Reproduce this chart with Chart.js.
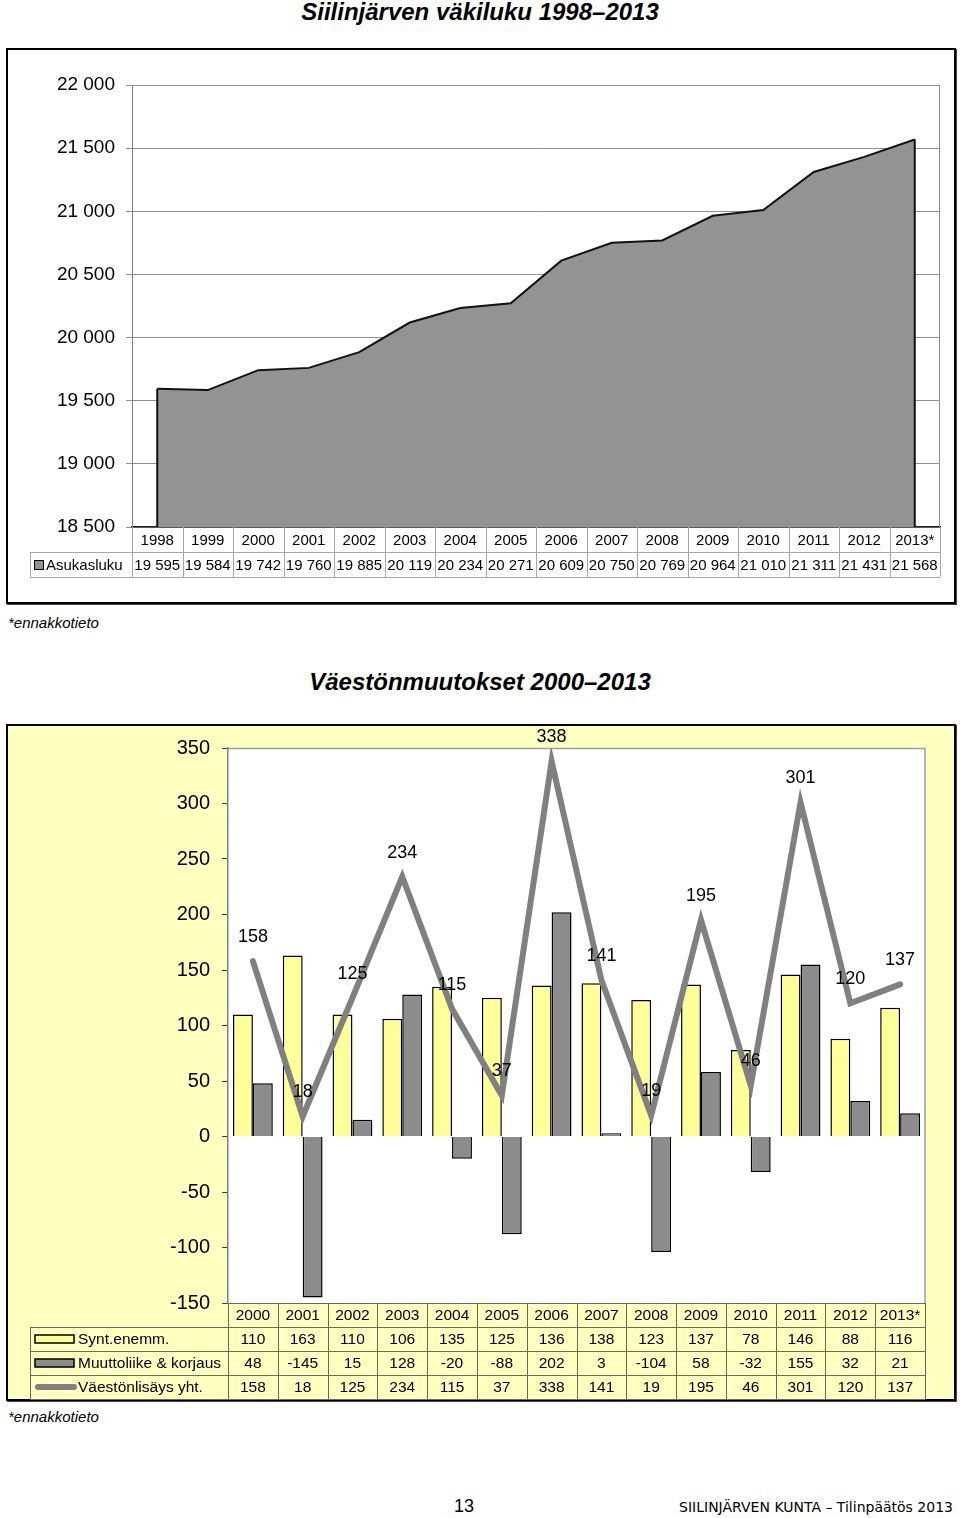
<!DOCTYPE html>
<html>
<head>
<meta charset="utf-8">
<script src="https://cdn.jsdelivr.net/npm/chart.js@4"></script>
<style>
body { margin: 0; width: 960px; height: 1518px; background: #fff; position: relative; font-family: "Liberation Sans", Arial, sans-serif; }
.title { position: absolute; left: 0; width: 960px; text-align: center; font-weight: bold; font-style: italic; font-size: 24px; line-height: 28px; }
.note { position: absolute; left: 8px; font-style: italic; font-size: 15px; line-height: 18px; }
.box { position: absolute; border: 2px solid #000; box-shadow: 1px 1px 0 #444; box-sizing: border-box; }
canvas { position: absolute; }
</style>
</head>
<body>
<div class="title" style="top:-2px">Siilinjärven väkiluku 1998–2013</div>
<div class="box" style="left:6px;top:48px;width:950px;height:556px;background:#fff"></div>
<canvas id="c1" width="949" height="555" style="left:6px;top:48px"></canvas>
<div class="note" style="top:614px">*ennakkotieto</div>

<div class="title" style="top:668px">Väestönmuutokset 2000–2013</div>
<div class="box" style="left:6px;top:724px;width:950px;height:677px;background:#ffffc0"></div>
<canvas id="c2" width="949" height="676" style="left:6px;top:724px"></canvas>
<div class="note" style="top:1408px">*ennakkotieto</div>

<div style="position:absolute;left:430px;width:68px;top:1495px;text-align:center;font-size:18px;line-height:22px">13</div>
<div style="position:absolute;right:7px;top:1498px;font-family:'DejaVu Sans',Verdana,sans-serif;font-size:14px;line-height:18px">SIILINJÄRVEN KUNTA – Tilinpäätös 2013</div>

<script>
// väkiluku
const years = ['1998', '1999', '2000', '2001', '2002', '2003', '2004', '2005',
	'2006', '2007', '2008', '2009', '2010', '2011', '2012', '2013*'];
const asukasluku = [19595, 19584, 19742, 19760, 19885, 20119, 20234, 20271,
	20609, 20750, 20769, 20964, 21010, 21311, 21431, 21568];

// väestönmuutokset
const years2 = ['2000', '2001', '2002', '2003', '2004', '2005', '2006',
	'2007', '2008', '2009', '2010', '2011', '2012', '2013*'];
const syntEnemm = [110, 163, 110, 106, 135, 125, 136, 138, 123, 137, 78, 146, 88, 116];
const muuttoliike = [48, -145, 15, 128, -20, -88, 202, 3, -104, 58, -32, 155, 32, 21];
const vaestonlisays = [158, 18, 125, 234, 115, 37, 338, 141, 19, 195, 46, 301, 120, 137];

const FONT = '"Liberation Sans", Arial, sans-serif';
const fmt = v => String(v).replace(/\B(?=(\d{3})+(?!\d))/g, ' ');

Chart.defaults.font.family = FONT;
Chart.defaults.color = '#000';

// --- chart 1 ---
const table1 = {
	id: 'table1',
	afterDatasetsDraw(chart) {
		const ctx = chart.ctx;
		const a = chart.chartArea;
		const meta = chart.getDatasetMeta(0);
		ctx.save();
		// side edges of the area
		ctx.strokeStyle = '#111';
		ctx.lineWidth = 2;
		ctx.beginPath();
		const p0 = meta.data[0], p1 = meta.data[meta.data.length - 1];
		ctx.moveTo(p0.x, p0.y); ctx.lineTo(p0.x, a.bottom);
		ctx.moveTo(p1.x, p1.y); ctx.lineTo(p1.x, a.bottom);
		ctx.stroke();
		ctx.restore();
	},
	afterDraw(chart) {
		const ctx = chart.ctx;
		const a = chart.chartArea;
		const x = chart.scales.x;
		const w = a.width / years.length;
		const top = a.bottom, rh = 25, left = 24;
		ctx.save();
		// plot border
		ctx.strokeStyle = '#909090';
		ctx.lineWidth = 1;
		ctx.beginPath();
		ctx.moveTo(a.left, a.top + 0.5); ctx.lineTo(a.right - 0.5, a.top + 0.5);
		ctx.lineTo(a.right - 0.5, a.bottom);
		ctx.stroke();

		ctx.strokeStyle = '#a8a8a8';
		ctx.beginPath();
		ctx.moveTo(a.left, top + rh + 0.5); ctx.lineTo(left, top + rh + 0.5);
		ctx.moveTo(a.right, top + rh + 0.5); ctx.lineTo(a.left, top + rh + 0.5);
		ctx.moveTo(left, top + 2 * rh + 0.5); ctx.lineTo(a.right, top + 2 * rh + 0.5);
		ctx.moveTo(left + 0.5, top + rh); ctx.lineTo(left + 0.5, top + 2 * rh);
		for (let i = 0; i <= years.length; i++) {
			const xx = Math.round(a.left + i * w) + 0.5;
			ctx.moveTo(xx, top); ctx.lineTo(xx, top + 2 * rh);
		}
		ctx.stroke();

		ctx.fillStyle = '#000';
		ctx.font = '15px ' + FONT;
		ctx.textAlign = 'center';
		ctx.textBaseline = 'middle';
		years.forEach((y, i) => {
			const cx = x.getPixelForValue(i);
			ctx.fillText(y, cx, top + rh / 2 + 1);
			ctx.fillText(fmt(asukasluku[i]), cx, top + rh * 1.5 + 1);
		});
		// legend key
		ctx.fillStyle = '#939393';
		ctx.fillRect(28.5, top + rh + 8.5, 9, 9);
		ctx.strokeStyle = '#000';
		ctx.strokeRect(28.5, top + rh + 8.5, 9, 9);
		ctx.fillStyle = '#000';
		ctx.textAlign = 'left';
		ctx.fillText('Asukasluku', 40, top + rh * 1.5 + 1);
		ctx.restore();
	}
};

new Chart(document.getElementById('c1'), {
	type: 'line',
	data: {
		labels: years,
		datasets: [{
			label: 'Asukasluku',
			data: asukasluku,
			fill: 'start',
			backgroundColor: '#939393',
			borderColor: '#111',
			borderWidth: 2,
			pointRadius: 0,
			tension: 0
		}]
	},
	options: {
		responsive: false,
		animation: false,
		devicePixelRatio: 1,
		layout: { padding: { top: 37, right: 15, bottom: 26, left: 0 } },
		plugins: { legend: { display: false }, tooltip: { enabled: false } },
		scales: {
			x: {
				offset: true,
				grid: { display: false },
				ticks: { display: false },
				border: { display: true, color: '#222', width: 1.5 },
				afterFit: s => { s.height = 50; }
			},
			y: {
				min: 18500,
				max: 22000,
				ticks: {
					stepSize: 500,
					padding: 11,
					font: { size: 19 },
					callback: v => fmt(v)
				},
				grid: { color: '#909090', tickLength: 6, tickColor: '#909090' },
				border: { color: '#808080' },
				afterFit: s => { s.width = 126; }
			}
		}
	},
	plugins: [table1]
});

// --- chart 2 ---
const whiteArea = {
	id: 'whiteArea',
	beforeDraw(chart) {
		const a = chart.chartArea;
		const ctx = chart.ctx;
		ctx.save();
		ctx.fillStyle = '#fff';
		ctx.fillRect(a.left, a.top, a.width, a.height);
		ctx.strokeStyle = '#a0a0a0';
		ctx.lineWidth = 1.5;
		ctx.beginPath();
		ctx.moveTo(a.left, a.top + 0.5); ctx.lineTo(a.right, a.top + 0.5);
		ctx.lineTo(a.right, a.bottom);
		ctx.stroke();
		ctx.restore();
	}
};

const lineLabels = {
	id: 'lineLabels',
	afterDatasetsDraw(chart) {
		const meta = chart.getDatasetMeta(2);
		const ctx = chart.ctx;
		ctx.save();
		ctx.font = '18px ' + FONT;
		ctx.fillStyle = '#000';
		ctx.textAlign = 'center';
		ctx.textBaseline = 'middle';
		meta.data.forEach((pt, i) => ctx.fillText(vaestonlisays[i], pt.x, pt.y - 24));
		ctx.restore();
	}
};

const table2 = {
	id: 'table2',
	afterDraw(chart) {
		const ctx = chart.ctx;
		const a = chart.chartArea;
		const x = chart.scales.x;
		const w = a.width / years2.length;
		const top = a.bottom, rh = 24, left = 24;
		const rows = [syntEnemm, muuttoliike, vaestonlisays];
		const names = ['Synt.enemm.', 'Muuttoliike & korjaus', 'Väestönlisäys yht.'];
		ctx.save();
		ctx.strokeStyle = '#6a6a5a';
		ctx.lineWidth = 1;
		ctx.beginPath();
		ctx.moveTo(a.left, top + 0.5); ctx.lineTo(a.right, top + 0.5);
		for (let r = 1; r <= 4; r++) {
			ctx.moveTo(left, top + r * rh + 0.5); ctx.lineTo(a.right, top + r * rh + 0.5);
		}
		ctx.moveTo(left + 0.5, top + rh); ctx.lineTo(left + 0.5, top + 4 * rh);
		for (let i = 0; i <= years2.length; i++) {
			const xx = Math.round(a.left + i * w) + 0.5;
			ctx.moveTo(xx, top); ctx.lineTo(xx, top + 4 * rh);
		}
		ctx.stroke();

		ctx.fillStyle = '#000';
		ctx.font = '15.5px ' + FONT;
		ctx.textAlign = 'center';
		ctx.textBaseline = 'middle';
		years2.forEach((y, i) => {
			const cx = x.getPixelForValue(i);
			ctx.fillText(y, cx, top + rh / 2 + 1);
			rows.forEach((row, r) => ctx.fillText(String(row[i]), cx, top + rh * (r + 1.5) + 1));
		});

		// legend keys
		ctx.lineWidth = 1.5;
		ctx.strokeStyle = '#000';
		ctx.fillStyle = '#ffff99';
		ctx.fillRect(29, top + rh + 8, 39, 8);
		ctx.strokeRect(29, top + rh + 8, 39, 8);
		ctx.fillStyle = '#8c8c8c';
		ctx.fillRect(29, top + 2 * rh + 8, 39, 8);
		ctx.strokeRect(29, top + 2 * rh + 8, 39, 8);
		ctx.strokeStyle = '#808080';
		ctx.lineWidth = 6;
		ctx.lineCap = 'round';
		ctx.beginPath();
		ctx.moveTo(32, top + 3.5 * rh); ctx.lineTo(68, top + 3.5 * rh);
		ctx.stroke();

		ctx.fillStyle = '#000';
		ctx.textAlign = 'left';
		names.forEach((n, r) => ctx.fillText(n, 72, top + rh * (r + 1.5) + 1));
		ctx.restore();
	}
};

new Chart(document.getElementById('c2'), {
	type: 'bar',
	data: {
		labels: years2,
		datasets: [{
			label: 'Synt.enemm.',
			data: syntEnemm,
			backgroundColor: '#ffff99',
			borderColor: '#000',
			borderWidth: 1.5,
			categoryPercentage: 0.8,
			barPercentage: 1.0,
			order: 2
		}, {
			label: 'Muuttoliike & korjaus',
			data: muuttoliike,
			backgroundColor: '#8c8c8c',
			borderColor: '#000',
			borderWidth: 1.5,
			categoryPercentage: 0.8,
			barPercentage: 1.0,
			order: 2
		}, {
			type: 'line',
			label: 'Väestönlisäys yht.',
			data: vaestonlisays,
			borderColor: '#808080',
			borderWidth: 6,
			borderCapStyle: 'round',
			pointRadius: 0,
			tension: 0,
			order: 0
		}]
	},
	options: {
		responsive: false,
		animation: false,
		devicePixelRatio: 1,
		layout: { padding: { top: 24, right: 30, bottom: 1, left: 0 } },
		plugins: { legend: { display: false }, tooltip: { enabled: false } },
		scales: {
			x: {
				offset: true,
				grid: { display: false },
				ticks: { display: false },
				border: { display: false },
				afterFit: s => { s.height = 96; }
			},
			y: {
				min: -150,
				max: 350,
				ticks: { stepSize: 50, padding: 12, font: { size: 20 } },
				grid: { drawOnChartArea: false, tickLength: 6, tickColor: '#404040' },
				border: { color: '#808080', width: 1.5 },
				afterFit: s => { s.width = 222; }
			}
		}
	},
	plugins: [whiteArea, lineLabels, table2]
});
</script>
</body>
</html>
